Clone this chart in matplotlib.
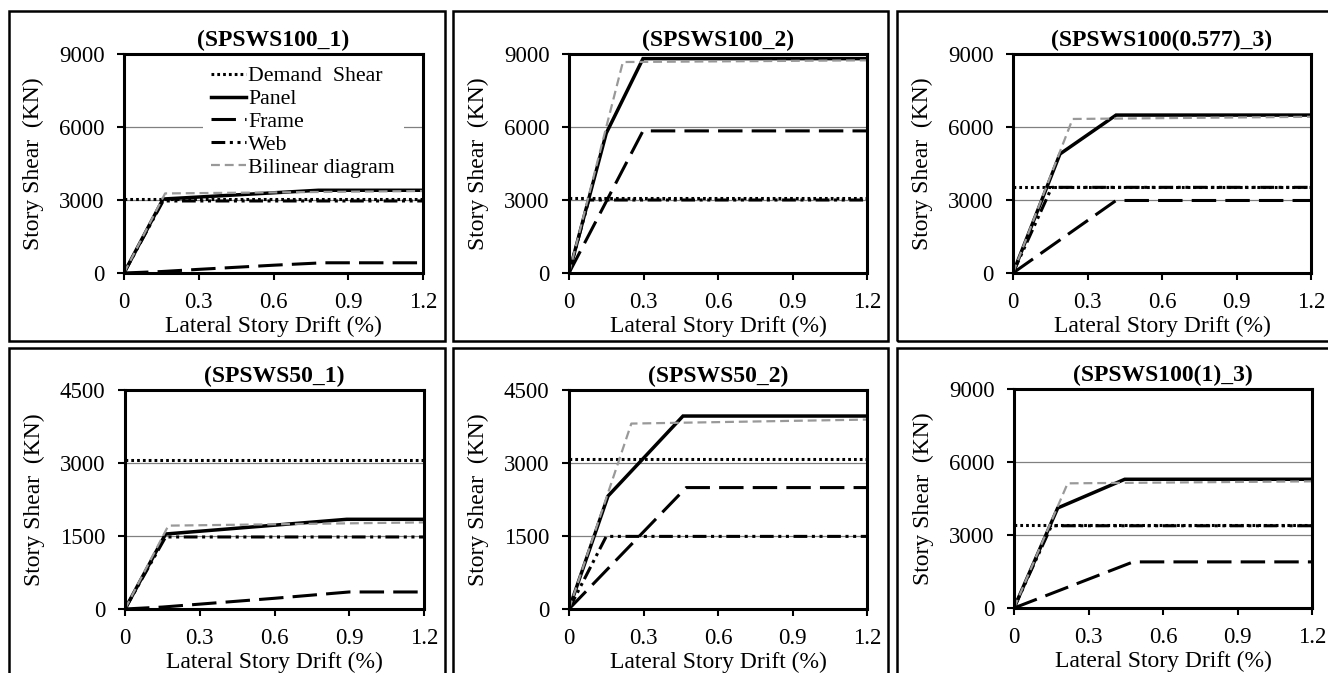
import matplotlib
matplotlib.use("Agg")
import matplotlib.pyplot as plt
from matplotlib.patches import Rectangle

plt.rcParams['font.family'] = ['Liberation Serif', 'DejaVu Serif']

# ---------------- data ----------------
titles = ["(SPSWS100_1)", "(SPSWS100_2)", "(SPSWS100(0.577)_3)",
          "(SPSWS50_1)", "(SPSWS50_2)", "(SPSWS100(1)_3)"]
y_max = [9000, 9000, 9000, 4500, 4500, 9000]
y_step = [3000, 3000, 3000, 1500, 1500, 3000]
x_ticks = [0, 0.3, 0.6, 0.9, 1.2]
x_tick_labels = ["0", "0.3", "0.6", "0.9", "1.2"]

demand_shear = [3040, 3070, 3550, 3070, 3075, 3420]

panel_x = [[0, 0.157, 0.78, 1.2], [0, 0.150, 0.298, 1.2], [0, 0.189, 0.415, 1.2],
           [0, 0.163, 0.89, 1.2], [0, 0.157, 0.459, 1.2], [0, 0.176, 0.446, 1.2]]
panel_y = [[0, 3040, 3400, 3400], [0, 5744, 8810, 8810], [0, 4890, 6490, 6490],
           [0, 1541, 1843, 1843], [0, 2320, 3965, 3965], [0, 4110, 5290, 5290]]

frame_x = [[0, 0.15, 0.3, 0.6, 0.8, 1.2], [0, 0.298, 1.2], [0, 0.415, 1.2],
           [0, 0.15, 0.3, 0.6, 0.9, 1.2], [0, 0.472, 1.2], [0, 0.480, 1.2]]
frame_y = [[0, 60, 150, 320, 420, 420], [0, 5840, 5840], [0, 2980, 2980],
           [0, 40, 100, 220, 350, 350], [0, 2495, 2495], [0, 1895, 1895]]

web_x = [[0, 0.157, 1.2], [0, 0.08, 1.2], [0, 0.156, 1.2],
         [0, 0.163, 1.2], [0, 0.150, 1.2], [0, 0.151, 1.2]]
web_y = [[0, 2960, 2960], [0, 3000, 3000], [0, 3520, 3520],
         [0, 1480, 1480], [0, 1492, 1492], [0, 3380, 3380]]

bilinear_x = [[0, 0.165, 1.2], [0, 0.217, 1.2], [0, 0.240, 1.2],
              [0, 0.174, 1.2], [0, 0.251, 1.2], [0, 0.216, 1.2]]
bilinear_y = [[0, 3270, 3370], [0, 8670, 8740], [0, 6330, 6420],
              [0, 1713, 1780], [0, 3810, 3892], [0, 5123, 5205]]

legend_labels = ["Demand  Shear", "Panel", "Frame", "Web", "Bilinear diagram"]

# ---------------- layout (pixels) ----------------
W, H = 1328, 673
fig = plt.figure(figsize=(W / 100, H / 100), dpi=100)

ax_px = [(124, 423, 54, 273), (569, 867, 54, 273), (1013, 1311, 54, 273),
         (125, 424, 390, 609), (569, 867, 390, 609), (1014, 1312, 389, 608)]
box_cols = [(9, 445), (453, 888), (897, 1345)]
box_rows = [(11, 341), (348, 690)]

for (x0, x1) in box_cols:
    for (y0, y1) in box_rows:
        fig.add_artist(Rectangle((x0 / W, 1 - y1 / H), (x1 - x0) / W, (y1 - y0) / H,
                                 transform=fig.transFigure, fill=False,
                                 lw=1.8, edgecolor='black'))

FS_TICK = 16.5
FS_LAB = 17
FS_LEG = 15.7
LW = 2.2
for i in range(6):
    l, r, t, b = ax_px[i]
    ax = fig.add_axes([l / W, 1 - b / H, (r - l) / W, (b - t) / H])
    ax.set_xlim(0, 1.2)
    ax.set_ylim(0, y_max[i])
    yt = list(range(0, y_max[i] + 1, y_step[i]))
    ax.set_yticks(yt)
    ax.set_yticklabels([str(v) for v in yt])
    ax.set_xticks(x_ticks)
    ax.set_xticklabels(x_tick_labels)
    ax.tick_params(direction='out', length=5, width=1.5, labelsize=FS_TICK)
    ax.tick_params(axis='y', pad=9)
    ax.tick_params(axis='x', pad=9)
    for s in ax.spines.values():
        s.set_linewidth(2.2)
    ax.yaxis.grid(True, color='#808080', lw=0.9)
    ax.set_axisbelow(True)

    ax.plot([0, 1.2], [demand_shear[i], demand_shear[i]], color='black', lw=LW,
            dashes=(0.9, 1.0), label=legend_labels[0])
    ax.plot(panel_x[i], panel_y[i], color='black', lw=LW + 0.3, solid_joinstyle='miter',
            label=legend_labels[1])
    ax.plot(frame_x[i], frame_y[i], color='black', lw=LW, dashes=(8, 3),
            label=legend_labels[2])
    ax.plot(web_x[i], web_y[i], color='black', lw=LW,
            dashes=(4.5, 1.5, 1, 1.5, 1, 1.5), label=legend_labels[3])
    ax.plot(bilinear_x[i], bilinear_y[i], color='#999999', lw=1.6, dashes=(4, 2.2),
            label=legend_labels[4])

    ax.set_title(titles[i], fontsize=FS_LAB, fontweight='bold', pad=6)
    ax.set_xlabel("Lateral Story Drift (%)", fontsize=FS_LAB, labelpad=2)
    ax.set_ylabel("Story Shear  (KN)", fontsize=FS_LAB, labelpad=11)

    if i == 0:
        leg = ax.legend(loc='upper left', bbox_to_anchor=(0.252, 1.0), fontsize=FS_LEG,
                        handlelength=1.6, handletextpad=0.1, labelspacing=0.12,
                        borderpad=0.4, borderaxespad=0.15, frameon=True, fancybox=False)
        leg.get_frame().set_facecolor('white')
        leg.get_frame().set_edgecolor('none')
        leg.get_frame().set_alpha(1)

fig.savefig("out.png", dpi=100)
